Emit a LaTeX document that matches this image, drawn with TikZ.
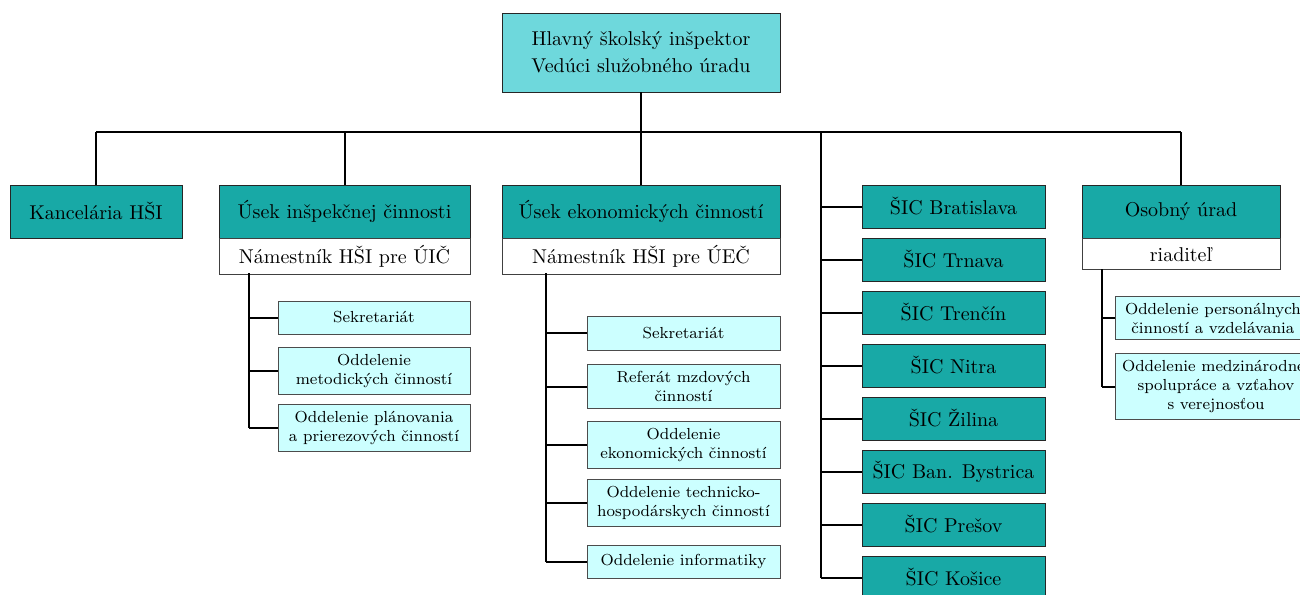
\documentclass[tikz,border=0pt]{standalone}
\usepackage{tikz}
\usetikzlibrary{positioning}

\definecolor{hsiteal}{RGB}{110,216,220}
\definecolor{unitteal}{RGB}{24,169,166}
\definecolor{deptcyan}{RGB}{204,255,255}

\tikzset{
    headbox/.style={draw=black!85, fill=hsiteal, align=center, minimum width=139pt, minimum height=39.5pt},
    unitbox/.style={draw=black!85, fill=unitteal, minimum height=26.5pt},
    chiefbox/.style={draw=black!75, fill=white},
    sicbox/.style={draw=black!85, fill=unitteal, minimum width=91.5pt, minimum height=21.5pt},
    deptbox/.style={draw=black!70, fill=deptcyan, font=\footnotesize, align=center},
    conn/.style={line width=1pt}
}

\begin{document}
\begin{tikzpicture}[x=0.5pt, y=-0.5pt]
        \useasboundingbox (0,0) rectangle (1300,594);

        \node[headbox] (hsi) at (641,52.5) {Hlavný školský inšpektor\\[1.5pt]Vedúci služobného úradu};

        \node[unitbox, minimum width=86pt] (kanc) at (96,211.5) {Kancelária HŠI};
        \node[unitbox, minimum width=125.5pt] (uic) at (344.5,211.5) {Úsek inšpekčnej činnosti};
        \node[chiefbox, minimum width=125.5pt, minimum height=17.5pt, below=0pt of uic] (uicchief) {Námestník HŠI pre ÚIČ};
        \node[unitbox, minimum width=139pt] (uec) at (641,211.5) {Úsek ekonomických činností};
        \node[chiefbox, minimum width=139pt, minimum height=17.5pt, below=0pt of uec] (uecchief) {Námestník HŠI pre ÚEČ};
        \node[unitbox, minimum width=99pt] (osob) at (1181,211.5) {Osobný úrad};
        \node[chiefbox, minimum width=99pt, minimum height=15.5pt, below=0pt of osob] (osobchief) {riaditeľ};

        \node[deptbox, minimum width=96pt, minimum height=16.5pt] (uic1) at (374,317.5) {Sekretariát};
        \node[deptbox, minimum width=96pt, minimum height=23pt] (uic2) at (374,371) {Oddelenie\\metodických činností};
        \node[deptbox, minimum width=96pt, minimum height=23pt] (uic3) at (374,428) {Oddelenie plánovania\\a prierezových činností};

        \node[deptbox, minimum width=96.5pt, minimum height=17pt] (uec1) at (683.5,333) {Sekretariát};
        \node[deptbox, minimum width=96.5pt, minimum height=21.5pt] (uec2) at (683.5,386.5) {Referát mzdových\\činností};
        \node[deptbox, minimum width=96.5pt, minimum height=22.5pt] (uec3) at (683.5,444.5) {Oddelenie\\ekonomických činností};
        \node[deptbox, minimum width=96.5pt, minimum height=23pt] (uec4) at (683.5,503) {Oddelenie technicko-\\hospodárskych činností};
        \node[deptbox, minimum width=96.5pt, minimum height=16.5pt] (uec5) at (683.5,561.5) {Oddelenie informatiky};

        \node[sicbox] (sic1) at (953.5,206.5) {ŠIC Bratislava};
        \node[sicbox] (sic2) at (953.5,259.5) {ŠIC Trnava};
        \node[sicbox] (sic3) at (953.5,312.5) {ŠIC Trenčín};
        \node[sicbox] (sic4) at (953.5,365.5) {ŠIC Nitra};
        \node[sicbox] (sic5) at (953.5,418.5) {ŠIC Žilina};
        \node[sicbox] (sic6) at (953.5,471.5) {ŠIC Ban. Bystrica};
        \node[sicbox] (sic7) at (953.5,524.5) {ŠIC Prešov};
        \node[sicbox] (sic8) at (953.5,577.5) {ŠIC Košice};

        \node[deptbox, anchor=west, minimum width=97.5pt, minimum height=21pt] (osob1) at (1115,318) {Oddelenie personálnych\\činností a vzdelávania};
        \node[deptbox, anchor=west, minimum width=97.5pt, minimum height=32.5pt] (osob2) at (1115,386.5) {Oddelenie medzinárodnej\\spolupráce a vzťahov\\s verejnosťou};

        \coordinate (bus) at (641,132);
        \coordinate (sicline) at (821,132);
        \coordinate (uicline) at (249,273);
        \coordinate (uecline) at (546,273);
        \coordinate (osobline) at (1102,269);

        \draw[conn]
            (hsi.south) edge (bus)
            (kanc.north) edge (kanc.north |- bus)
            (kanc.north |- bus) edge (osob.north |- bus)
            (uic.north) edge (uic.north |- bus)
            (uec.north) edge (uec.north |- bus)
            (osob.north) edge (osob.north |- bus)

            (uicline) edge (uicline |- uic3.west)
            (uic1.west) edge (uic1.west -| uicline)
            (uic2.west) edge (uic2.west -| uicline)
            (uic3.west) edge (uic3.west -| uicline)

            (uecline) edge (uecline |- uec5.west)
            (uec1.west) edge (uec1.west -| uecline)
            (uec2.west) edge (uec2.west -| uecline)
            (uec3.west) edge (uec3.west -| uecline)
            (uec4.west) edge (uec4.west -| uecline)
            (uec5.west) edge (uec5.west -| uecline)

            (sicline) edge (sicline |- sic8.west)
            (sic1.west) edge (sic1.west -| sicline)
            (sic2.west) edge (sic2.west -| sicline)
            (sic3.west) edge (sic3.west -| sicline)
            (sic4.west) edge (sic4.west -| sicline)
            (sic5.west) edge (sic5.west -| sicline)
            (sic6.west) edge (sic6.west -| sicline)
            (sic7.west) edge (sic7.west -| sicline)
            (sic8.west) edge (sic8.west -| sicline)

            (osobline) edge (osobline |- osob2.west)
            (osob1.west) edge (osob1.west -| osobline)
            (osob2.west) edge (osob2.west -| osobline);
    \end{tikzpicture}
\end{document}
